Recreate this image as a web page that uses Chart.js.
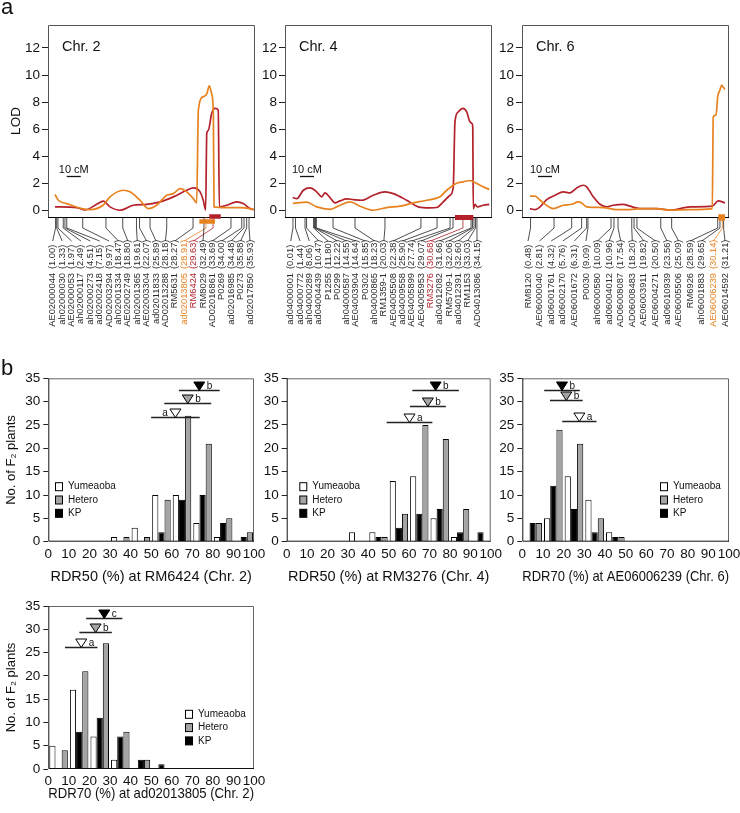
<!DOCTYPE html>
<html>
<head>
<meta charset="utf-8">
<script src="https://cdn.jsdelivr.net/npm/chart.js@4.4.1/dist/chart.umd.min.js"></script>
<style>
  body { margin: 0; background: #fff; }
  #wrap { position: relative; width: 740px; height: 813px; overflow: hidden; }
  #wrap canvas { position: absolute; left: 0; top: 0; }
</style>
</head>
<body>
<div id="wrap"></div>
<script>
// ---------- panel a : LOD profiles (x in cM, y = LOD) ----------
const lodTicks = [0, 2, 4, 6, 8, 10, 12];

const chr2_rdr50_cm  = [5, 20.5, 26.4, 34.8, 39.5, 44.3, 51.4, 60.9, 70.5, 80, 89.5, 99.1, 103.8, 108.6, 110.9, 112.6, 113.4, 114.5, 116.9, 119.3, 121.6, 122.4, 127.6, 134.8, 139.5, 144.3, 147.1];
const chr2_rdr50_lod = [0.25, 0.2, 0.02, 0.44, 0.67, 0.25, 0.0, 0.37, 0.44, 0.62, 0.99, 1.48, 1.65, 1.36, 0.74, 0.02, 5.68, 5.9, 7.16, 7.53, 7.4, 0.25, 0.37, 0.62, 0.49, 0.12, 0.05];
const chr2_rdr70_cm  = [5, 7.4, 13.4, 25, 30, 39.3, 44.3, 53.8, 58.6, 65.7, 71.6, 77.6, 84.8, 89.5, 94.3, 99.1, 103.8, 106.2, 107.4, 110.9, 113.4, 115.2, 116.9, 118.1, 118.6, 126.4, 137.1, 144.3, 147.1];
const chr2_rdr70_lod = [1.16, 0.74, 0.49, 0.1, 0.05, 0.37, 0.99, 1.48, 1.36, 0.74, 0.12, 0.37, 1.11, 1.23, 1.6, 1.36, 0.86, 0.54, 7.4, 8.4, 8.6, 9.2, 8.6, 7.2, 0.25, 0.2, 0.2, 0.12, 0.05];

const chr4_rdr50_cm  = [5.5, 8.4, 13.1, 17.9, 22.6, 26.2, 28.6, 32.1, 35.7, 39.3, 44.1, 48.8, 54.8, 63.1, 71.4, 77.4, 86.9, 95.2, 103.6, 108.4, 113.1, 117.9, 120.2, 121.4, 123.8, 126.9, 129.8, 132.1, 133.6, 134.1, 134.5, 135.7, 137.4, 141.6, 145.9];
const chr4_rdr50_lod = [0.94, 0.86, 1.48, 1.65, 1.36, 0.99, 1.28, 0.94, 0.54, 0.69, 0.84, 0.79, 0.74, 1.11, 1.36, 1.23, 0.74, 0.25, 0.17, 0.2, 0.62, 1.11, 1.73, 6.54, 7.28, 7.53, 7.28, 6.54, 6.42, 6.17, 0.12, 0.44, 0.25, 0.37, 0.44];
const chr4_rdr70_cm  = [5.5, 15.5, 22.6, 32.1, 39.3, 46.4, 53.6, 63.1, 72.6, 82.1, 91.6, 101.2, 110.7, 115.5, 122.6, 127.4, 132.1, 134.5, 139.3, 145.9];
const chr4_rdr70_lod = [0.5, 0.6, 0.25, 0.07, 0.37, 0.62, 0.3, 0.0, 0.2, 0.3, 0.54, 0.74, 1.0, 1.48, 2.0, 2.1, 2.2, 2.1, 1.85, 1.53];

const chr6_rdr50_cm  = [5.7, 9.3, 12.9, 17.6, 23.6, 29.5, 34.3, 39.1, 43.8, 46.2, 50.9, 55.7, 60.5, 65.2, 72.4, 77.1, 84.3, 96.2, 105.7, 120, 135.9, 140.2, 145];
const chr6_rdr50_lod = [0.12, 0.05, 0.25, 0.79, 1.11, 1.36, 1.28, 1.65, 1.85, 1.73, 0.99, 0.44, 0.25, 0.37, 0.44, 0.3, 0.12, 0.12, 0.0, 0.25, 0.3, 0.69, 0.54];
const chr6_rdr70_cm  = [5.7, 9.3, 12.9, 20, 22.4, 29.5, 35.5, 40.2, 42.6, 46.2, 58.1, 67.6, 77.1, 84.3, 96.2, 105.7, 120, 135.9, 136.6, 138.6, 139.8, 141.4, 142.6, 143.8, 145];
const chr6_rdr70_lod = [1.04, 1.04, 0.74, 0.2, 0.12, 0.37, 0.44, 0.62, 0.54, 0.25, 0.2, 0.05, 0.05, 0.12, 0.12, 0.0, 0.05, 0.12, 6.9, 7.04, 8.4, 8.9, 9.26, 9.09, 8.94];

// markers: name, physical position (Mb), map position (cM)
const chr2_markers = ['AE02000044','ah02000030','AE02000053','ah02000117','ah02000273','ad02002418','AD02003294','ah02001334','AE02002749','ah02001365','AE02003304','ad02011833','AD02013288','RM5631','ad02013805','RM6424','RM8029','AD02016861','P0269','ad02016985','P0273','ad02017850'];
const chr2_mb = [1.00, 1.33, 1.97, 2.49, 4.51, 7.15, 9.97, 18.47, 18.80, 19.61, 22.07, 25.89, 28.18, 28.27, 28.91, 29.63, 32.49, 33.69, 34.00, 34.48, 35.88, 35.93];
const chr2_cm = [5.4, 6.2, 7.1, 10.9, 12.1, 13.4, 24.8, 41.4, 53.4, 63.2, 65.4, 72.9, 84.8, 103.6, 112.9, 117.9, 111.4, 130.7, 138.4, 140.0, 141.9, 143.6];

const chr4_markers = ['ad04000001','ad04000772','ah04000289','ad04004439','P1255','P0299','ah04000587','AE04003904','P0302','ah04000865','RM1359-1','AE04005508','ad04009558','AE04005899','AE04005953','RM3276','ad04012082','RM5709-1','ad04012391','RM1153','AD04013086'];
const chr4_mb = [0.01, 1.44, 8.06, 10.47, 11.80, 12.22, 14.55, 14.64, 15.85, 18.23, 20.03, 22.38, 25.90, 27.74, 29.07, 30.68, 31.66, 32.06, 32.60, 33.03, 34.15];
const chr4_cm = [5.7, 7.5, 14.3, 15.4, 20.4, 21.1, 21.8, 22.4, 34.3, 50.0, 71.4, 97.1, 108.6, 117.9, 120.0, 127.1, 132.9, 133.9, 135.0, 136.1, 137.1];

const chr6_markers = ['RM8120','AE06000040','ad06001761','ad06002170','AE06001672','P0030','ah06000580','ad06004012','AD06008087','AD06008483','AE06003911','AE06004271','ad06010939','AE06005506','RM6926','ah06001883','AE06006239','AE06014592'];
const chr6_mb = [0.48, 2.81, 4.32, 5.76, 6.31, 9.09, 10.09, 10.96, 17.54, 18.20, 19.82, 20.50, 23.56, 25.09, 28.59, 29.65, 30.14, 31.21];
const chr6_cm = [6.1, 22.9, 35.5, 42.6, 46.2, 47.1, 63.6, 65.7, 68.6, 78.4, 80.0, 82.1, 99.1, 106.9, 139.8, 141.4, 143.1, 144.0];

// QTL intervals (cM)
const chr2_qtl_rdr70 = [108.1, 119.3];
const chr2_qtl_rdr50 = [115.2, 123.4];
const chr4_qtl_rdr50 = [121.4, 134.5];
const chr6_qtl_rdr70 = [140.2, 145.0];

// ---------- panel b : histograms ----------
const bins = ['0-10','10-20','20-30','30-40','40-50','50-60','60-70','70-80','80-90','90-100'];
const rdrTicks = [0, 10, 20, 30, 40, 50, 60, 70, 80, 90, 100];
const countTicks = [0, 5, 10, 15, 20, 25, 30, 35];
const groupNames = ['Yumeaoba', 'Hetero', 'KP'];

const h1_yumeaoba = [0, 0, 0, 1, 3, 10, 10, 4, 1, 0];
const h1_hetero   = [0, 0, 0, 1, 1, 9, 27, 21, 5, 2];
const h1_kp       = [0, 0, 0, 0, 0, 2, 9, 10, 4, 1];
const h1_mean = [61.8, 67.8, 73.4];
const h1_sd   = [11.8, 11.4, 9.9];
const h1_letters = ['a', 'b', 'b'];

const h2_yumeaoba = [0, 0, 0, 2, 2, 13, 14, 5, 1, 0];
const h2_hetero   = [0, 0, 0, 0, 1, 6, 25, 22, 7, 0];
const h2_kp       = [0, 0, 0, 0, 1, 3, 6, 7, 2, 2];
const h2_mean = [60.2, 69.2, 73.0];
const h2_sd   = [11.2, 8.8, 11.4];
const h2_letters = ['a', 'b', 'b'];

const h3_yumeaoba = [0, 5, 14, 9, 2, 0, 0, 0, 0, 0];
const h3_hetero   = [4, 24, 21, 5, 1, 0, 0, 0, 0, 0];
const h3_kp       = [4, 12, 7, 2, 1, 0, 0, 0, 0, 0];
const h3_mean = [27.6, 21.3, 19.2];
const h3_sd   = [8.3, 7.9, 8.6];
const h3_letters = ['a', 'b', 'b'];

const h4_yumeaoba = [5, 17, 7, 2, 0, 0, 0, 0, 0, 0];
const h4_hetero   = [4, 21, 27, 8, 2, 0, 0, 0, 0, 0];
const h4_kp       = [0, 8, 11, 7, 2, 1, 0, 0, 0, 0];
const h4_mean = [16.0, 23.0, 27.2];
const h4_sd   = [7.9, 7.9, 8.8];
const h4_letters = ['a', 'b', 'c'];

// ---------- styling / layout ----------
const FONT = '"Liberation Sans", Arial, Helvetica, sans-serif';
const RED = '#b3212b', ORANGE = '#e8821f', GREY = '#a4a4a4';
const PX_PER_CM = 1.4;
const TICK_SIZE = 13.5;
Chart.defaults.font.family = FONT;
Chart.defaults.color = '#111';

const wrap = document.getElementById('wrap');
function makeCanvas() {
  const c = document.createElement('canvas');
  c.width = 740; c.height = 813;
  wrap.appendChild(c);
  return c;
}
const pts = (xs, ys) => xs.map((v, i) => ({ x: v, y: ys[i] }));
const nz = arr => arr.map(v => (v === 0 ? null : v));

const lodPanels = [
  { box: [48, 25, 255, 217], title: 'Chr. 2', yTitle: 'LOD', letter: 'a',
    red: [chr2_rdr50_cm, chr2_rdr50_lod], orange: [chr2_rdr70_cm, chr2_rdr70_lod],
    markers: chr2_markers, mb: chr2_mb, cm: chr2_cm, labelSpan: [52.7, 250],
    hi: { ad02013805: ORANGE, RM6424: RED },
    qtl: [{ r: chr2_qtl_rdr70, color: ORANGE, dy: 4.5, h: 4.5 }, { r: chr2_qtl_rdr50, color: RED, dy: -0.5, h: 4.5 }],
    bar: { cm: 13.4, lod: 2.5 } },
  { box: [285, 25, 492, 217], title: 'Chr. 4',
    red: [chr4_rdr50_cm, chr4_rdr50_lod], orange: [chr4_rdr70_cm, chr4_rdr70_lod],
    markers: chr4_markers, mb: chr4_mb, cm: chr4_cm, labelSpan: [290.7, 477],
    hi: { RM3276: RED },
    qtl: [{ r: chr4_qtl_rdr50, color: RED, dy: 0.5, h: 5 }],
    bar: { cm: 10.7, lod: 2.5 } },
  { box: [522, 25, 729, 217], title: 'Chr. 6',
    red: [chr6_rdr50_cm, chr6_rdr50_lod], orange: [chr6_rdr70_cm, chr6_rdr70_lod],
    markers: chr6_markers, mb: chr6_mb, cm: chr6_cm, labelSpan: [528, 725],
    hi: { AE06006239: ORANGE },
    qtl: [{ r: chr6_qtl_rdr70, color: ORANGE, dy: 0.5, h: 6.5 }],
    bar: { cm: 11.4, lod: 2.5 } }
];

const histPanels = [
  { box: [48.3, 378.3, 254, 541.7], titleY: 577, yTitle: true, letter: 'b',
    xTitle: 'RDR50 (%) at RM6424 (Chr. 2)',
    yum: h1_yumeaoba, het: h1_hetero, kp: h1_kp, mean: h1_mean, sd: h1_sd, letters: h1_letters,
    levels: [26.8, 29.8, 32.6], letterLeft: [true, false, false], legend: [55, 486.7] },
  { box: [286.7, 378.3, 490.7, 541.7], titleY: 577,
    xTitle: 'RDR50 (%) at RM3276 (Chr. 4)',
    yum: h2_yumeaoba, het: h2_hetero, kp: h2_kp, mean: h2_mean, sd: h2_sd, letters: h2_letters,
    levels: [25.6, 29.0, 32.4], letterLeft: [false, false, false], legend: [299.3, 486.7] },
  { box: [522.3, 378.3, 729, 541.7], titleY: 577,
    xTitle: 'RDR70 (%) at AE06006239 (Chr. 6)',
    yum: h3_yumeaoba, het: h3_hetero, kp: h3_kp, mean: h3_mean, sd: h3_sd, letters: h3_letters,
    levels: [25.9, 30.4, 32.5], letterLeft: [false, false, false], legend: [660, 486.7] },
  { box: [48.3, 606, 254, 769], titleY: 794, yTitle: true,
    xTitle: 'RDR70 (%) at ad02013805 (Chr. 2)',
    yum: h4_yumeaoba, het: h4_hetero, kp: h4_kp, mean: h4_mean, sd: h4_sd, letters: h4_letters,
    levels: [26.2, 29.5, 32.5], letterLeft: [false, false, false], legend: [185, 714.3] }
];

// ---------- plugins ----------
function mapDecor(p) {
  return {
    id: 'mapDecor',
    afterDraw(chart) {
      const { ctx, chartArea: a, scales: { x, y } } = chart;
      const B = a.bottom;
      ctx.save();
      ctx.lineWidth = 1;
      ctx.strokeStyle = '#555';
      ctx.beginPath();
      ctx.moveTo(a.left + 0.5, B); ctx.lineTo(a.left + 0.5, a.top + 0.5);
      ctx.lineTo(a.right - 0.5, a.top + 0.5); ctx.lineTo(a.right - 0.5, B);
      ctx.stroke();
      ctx.strokeStyle = '#000';
      ctx.beginPath(); ctx.moveTo(a.left, B + 0.5); ctx.lineTo(a.right, B + 0.5); ctx.stroke();

      // 10 cM scale bar
      const sx = x.getPixelForValue(p.bar.cm), ex = x.getPixelForValue(p.bar.cm + 10);
      const sy = Math.round(y.getPixelForValue(p.bar.lod)) + 0.5;
      ctx.strokeStyle = '#111'; ctx.lineWidth = 1.3;
      ctx.beginPath(); ctx.moveTo(sx, sy); ctx.lineTo(ex, sy); ctx.stroke();
      ctx.fillStyle = '#111'; ctx.font = '11px ' + FONT;
      ctx.textAlign = 'left'; ctx.textBaseline = 'alphabetic';
      ctx.fillText('10 cM', sx - 8, sy - 4);

      ctx.font = '14.5px ' + FONT;
      ctx.fillText(p.title, a.left + 14, a.top + 25.5);
      if (p.letter) { ctx.font = '22px ' + FONT; ctx.fillText(p.letter, 1, 14); }

      // markers, connectors, labels
      const n = p.markers.length, [l0, l1] = p.labelSpan;
      ctx.font = '9.3px ' + FONT; ctx.lineWidth = 0.8;
      for (let i = 0; i < n; i++) {
        const mx = x.getPixelForValue(p.cm[i]);
        const lx = l0 + (l1 - l0) * i / (n - 1);
        const col = p.hi[p.markers[i]];
        ctx.strokeStyle = col || '#222';
        ctx.beginPath(); ctx.moveTo(mx, B); ctx.lineTo(mx, B + 11); ctx.lineTo(lx, B + 24); ctx.stroke();
        ctx.fillStyle = col || '#2a2a2a';
        ctx.textBaseline = 'middle';
        ctx.save(); ctx.translate(lx, B + 52); ctx.rotate(-Math.PI / 2);
        ctx.textAlign = 'left'; ctx.fillText('(' + p.mb[i].toFixed(2) + ')', 0, 0); ctx.restore();
        ctx.save(); ctx.translate(lx, B + 56); ctx.rotate(-Math.PI / 2);
        ctx.textAlign = 'right'; ctx.fillText(p.markers[i], 0, 0); ctx.restore();
      }
      // QTL intervals
      for (const q of p.qtl) {
        const x1 = x.getPixelForValue(q.r[0]), x2 = x.getPixelForValue(q.r[1]);
        ctx.fillStyle = q.color;
        ctx.fillRect(x1, B + q.dy - q.h / 2, x2 - x1, q.h);
      }
      ctx.restore();
    }
  };
}

function histDecor(p) {
  return {
    id: 'histDecor',
    afterDraw(chart) {
      const { ctx, chartArea: a, scales: { x2, y } } = chart;
      ctx.save();
      ctx.lineWidth = 1;
      ctx.strokeStyle = '#666';
      ctx.beginPath(); ctx.moveTo(a.left, a.top + 0.5); ctx.lineTo(a.right - 0.5, a.top + 0.5); ctx.lineTo(a.right - 0.5, a.bottom); ctx.stroke();
      ctx.strokeStyle = '#111';
      ctx.beginPath(); ctx.moveTo(a.left + 0.5, a.top); ctx.lineTo(a.left + 0.5, a.bottom - 0.5); ctx.lineTo(a.right, a.bottom - 0.5); ctx.stroke();

      if (p.letter) {
        ctx.fillStyle = '#111'; ctx.font = '22px ' + FONT;
        ctx.textAlign = 'left'; ctx.textBaseline = 'alphabetic';
        ctx.fillText(p.letter, 1, 375);
      }

      const fills = ['#fff', GREY, '#000'];
      // legend
      ctx.font = '10px ' + FONT; ctx.textAlign = 'left'; ctx.textBaseline = 'middle';
      groupNames.forEach((name, i) => {
        const ly = p.legend[1] + i * 13.3;
        ctx.fillStyle = fills[i];
        ctx.fillRect(p.legend[0] + 0.5, ly - 4, 7, 8);
        ctx.strokeStyle = '#000'; ctx.strokeRect(p.legend[0] + 0.5, ly - 4, 7, 8);
        ctx.fillStyle = '#111';
        ctx.fillText(name, p.legend[0] + 13, ly);
      });

      // means with SD bars
      groupNames.forEach((name, i) => {
        const m = p.mean[i], s = p.sd[i];
        const py = Math.round(y.getPixelForValue(p.levels[i])) + 0.5;
        const xl = x2.getPixelForValue(m - s), xr = x2.getPixelForValue(m + s), mx = x2.getPixelForValue(m);
        ctx.strokeStyle = '#222'; ctx.lineWidth = 1.3;
        ctx.beginPath(); ctx.moveTo(xl, py); ctx.lineTo(xr, py); ctx.stroke();
        ctx.beginPath();
        ctx.moveTo(mx - 5.5, py - 8.5); ctx.lineTo(mx + 5.5, py - 8.5); ctx.lineTo(mx, py); ctx.closePath();
        ctx.fillStyle = fills[i]; ctx.fill();
        ctx.lineWidth = 1; ctx.strokeStyle = '#000'; ctx.stroke();
        ctx.fillStyle = '#111'; ctx.font = '10px ' + FONT; ctx.textBaseline = 'alphabetic';
        if (p.letterLeft[i]) { ctx.textAlign = 'right'; ctx.fillText(p.letters[i], mx - 7.5, py - 1.5); }
        else { ctx.textAlign = 'left'; ctx.fillText(p.letters[i], mx + 7.5, py - 1.5); }
      });
      ctx.restore();
    }
  };
}

// ---------- charts ----------
function lodChart(p) {
  const [L, T, R, B] = p.box;
  const yW = 48;
  return new Chart(makeCanvas(), {
    type: 'line',
    data: {
      datasets: [
        { label: 'RDR70', data: pts(p.orange[0], p.orange[1]), borderColor: ORANGE },
        { label: 'RDR50', data: pts(p.red[0], p.red[1]), borderColor: RED }
      ]
    },
    options: {
      responsive: false, animation: false, devicePixelRatio: 1,
      layout: { padding: { left: L - yW, top: T, right: 740 - R, bottom: 813 - B } },
      plugins: { legend: { display: false }, tooltip: { enabled: false } },
      elements: {
        point: { radius: 0 },
        line: { borderWidth: 1.7, cubicInterpolationMode: 'monotone', fill: false }
      },
      scales: {
        x: { type: 'linear', min: 0, max: (R - L) / PX_PER_CM, display: false },
        y: {
          min: -0.5, max: 13.7,
          afterBuildTicks: s => { s.ticks = lodTicks.map(v => ({ value: v })); },
          afterFit: s => { s.width = yW; s.paddingTop = 0; s.paddingBottom = 0; },
          grid: { drawOnChartArea: false, tickLength: 6, color: '#222' },
          border: { display: false },
          ticks: { color: '#111', font: { size: TICK_SIZE }, padding: 2 },
          title: { display: !!p.yTitle, text: p.yTitle || '', color: '#111',
                   font: { size: 13.5 }, padding: { top: 8, bottom: 0 } }
        }
      }
    },
    plugins: [mapDecor(p)]
  });
}

function histChart(p) {
  const [L, T, R, B] = p.box;
  const yW = 48;
  const titleSize = 14.5, lh = titleSize * 1.2;
  const xH = p.titleY + lh / 2 + 2 - B;
  return new Chart(makeCanvas(), {
    type: 'bar',
    data: {
      labels: bins,
      datasets: [
        { label: 'Yumeaoba', data: nz(p.yum), backgroundColor: '#fff' },
        { label: 'KP', data: nz(p.kp), backgroundColor: '#000' },
        { label: 'Hetero', data: nz(p.het), backgroundColor: GREY }
      ]
    },
    options: {
      responsive: false, animation: false, devicePixelRatio: 1,
      layout: { padding: { left: L - yW, top: T, right: 740 - R, bottom: 813 - B - xH } },
      plugins: { legend: { display: false }, tooltip: { enabled: false } },
      datasets: { bar: { categoryPercentage: 0.9, barPercentage: 1, borderColor: '#000', borderWidth: 1 } },
      scales: {
        x: { type: 'category', display: false, offset: true },
        x2: {
          type: 'linear', position: 'bottom', min: 0, max: 100, offset: false,
          afterBuildTicks: s => { s.ticks = rdrTicks.map(v => ({ value: v })); },
          afterFit: s => { s.height = xH; s.paddingLeft = 0; s.paddingRight = 0; },
          grid: { display: false, drawTicks: false, offset: false },
          border: { display: false },
          ticks: { color: '#111', font: { size: TICK_SIZE }, padding: 4, maxRotation: 0, autoSkip: false },
          title: { display: true, text: p.xTitle, color: '#111', font: { size: titleSize },
                   padding: { top: 0, bottom: 2 } }
        },
        y: {
          min: 0, max: 35,
          afterBuildTicks: s => { s.ticks = countTicks.map(v => ({ value: v })); },
          afterFit: s => { s.width = yW; s.paddingTop = 0; s.paddingBottom = 0; },
          grid: { drawOnChartArea: false, tickLength: 5, color: '#222' },
          border: { display: false },
          ticks: { color: '#111', font: { size: TICK_SIZE }, padding: 3 },
          title: { display: !!p.yTitle, text: 'No. of F\u2082 plants', color: '#111',
                   font: { size: 13 }, padding: { top: 3, bottom: 0 } }
        }
      }
    },
    plugins: [histDecor(p)]
  });
}

lodPanels.forEach(lodChart);
histPanels.forEach(histChart);
</script>
</body>
</html>
